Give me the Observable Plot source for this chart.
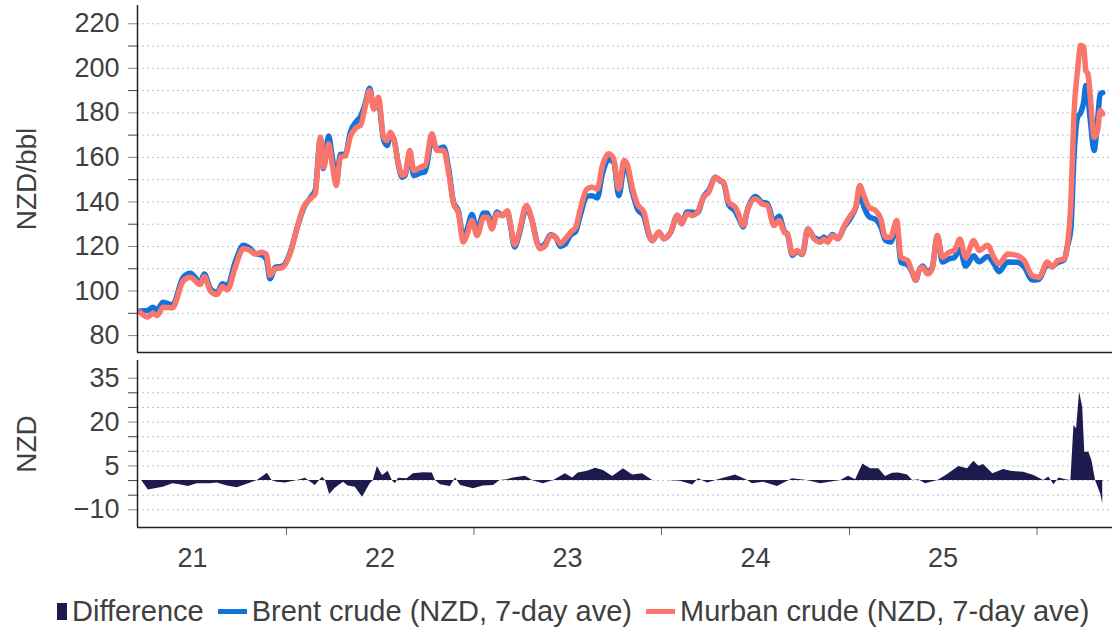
<!DOCTYPE html>
<html>
<head>
<meta charset="utf-8">
<script src="https://cdn.jsdelivr.net/npm/d3@7"></script>
<script src="https://cdn.jsdelivr.net/npm/@observablehq/plot@0.6"></script>
<style>
  html, body { margin: 0; padding: 0; background: #ffffff; }
  #chart { width: 1112px; height: 628px; position: relative; overflow: hidden;
           font-family: "Liberation Sans", Arial, sans-serif; color: #404040; }
  #chart svg { display: block; }
  #legend { position: absolute; left: 57px; top: 592px; height: 38px;
            display: flex; align-items: center; justify-content: flex-start;
            font-size: 29px; color: #404040; white-space: nowrap; }
  .item { display: flex; align-items: center; }
  .item + .item { margin-left: 14px; }
  .sq { width: 10px; height: 17px; margin-right: 5px; }
  .ln { width: 29px; height: 5px; margin-right: 5px; }
</style>
</head>
<body>
<div id="chart"></div>
<script>
// ---------------- data ----------------
const priceDates = [
  "2021-03-22","2021-04-06","2021-04-16","2021-04-24","2021-05-06","2021-05-24","2021-06-14","2021-06-28",
  "2021-07-17","2021-07-25","2021-08-06","2021-08-19","2021-08-29","2021-09-08","2021-09-23","2021-10-09",
  "2021-10-22","2021-11-01","2021-11-14","2021-11-23","2021-11-30","2021-12-10","2021-12-24","2022-01-09",
  "2022-01-22","2022-02-03","2022-02-20","2022-02-26","2022-03-08","2022-03-14","2022-03-24","2022-03-31",
  "2022-04-08","2022-04-16","2022-04-26","2022-05-05","2022-05-18","2022-05-25","2022-06-03","2022-06-12",
  "2022-06-20","2022-06-29","2022-07-09","2022-07-16","2022-07-22","2022-07-29","2022-08-07","2022-08-14",
  "2022-08-20","2022-08-29","2022-09-06","2022-09-19","2022-09-28","2022-10-11","2022-10-21","2022-11-03",
  "2022-11-13","2022-11-22","2022-12-02","2022-12-11","2022-12-19","2022-12-28","2023-01-07","2023-01-20",
  "2023-01-27","2023-02-05","2023-02-15","2023-02-25","2023-03-07","2023-03-13","2023-03-21","2023-03-29",
  "2023-04-13","2023-04-24","2023-05-04","2023-05-10","2023-05-20","2023-05-30","2023-06-09","2023-06-18",
  "2023-06-28","2023-07-08","2023-07-18","2023-07-27","2023-08-09","2023-08-19","2023-08-29","2023-09-08",
  "2023-09-20","2023-09-30","2023-10-10","2023-10-20","2023-10-26","2023-11-05","2023-11-15","2023-11-28",
  "2023-12-07","2023-12-14","2023-12-27","2024-01-06","2024-01-19","2024-02-01","2024-02-09","2024-02-20",
  "2024-03-01","2024-03-11","2024-03-23","2024-04-02","2024-04-15","2024-04-25","2024-05-01","2024-05-11",
  "2024-05-24","2024-05-31","2024-06-08","2024-06-16","2024-07-02","2024-07-15","2024-07-25","2024-08-07",
  "2024-08-17","2024-08-27","2024-09-02","2024-09-12","2024-09-21","2024-10-01","2024-10-12","2024-10-24",
  "2024-11-06","2024-11-12","2024-11-19","2024-11-29","2024-12-09","2024-12-22","2025-01-03","2025-01-13",
  "2025-01-21","2025-01-29","2025-02-08","2025-02-21","2025-03-03","2025-03-12","2025-03-22","2025-04-03",
  "2025-04-11","2025-04-24","2025-05-03","2025-05-10","2025-05-16","2025-05-23","2025-06-02","2025-06-11",
  "2025-06-21","2025-07-01","2025-07-14","2025-07-24","2025-08-04","2025-08-15","2025-08-31","2025-09-10",
  "2025-09-27","2025-10-09","2025-10-19","2025-11-05","2025-11-24","2025-12-07","2025-12-23","2026-01-05",
  "2026-01-21","2026-01-31","2026-02-10","2026-02-23","2026-03-01","2026-03-08","2026-03-14","2026-03-21",
  "2026-03-27","2026-04-02","2026-04-06","2026-04-10","2026-04-16","2026-04-22","2026-04-29","2026-05-04",
  "2026-05-09"
];
const murban = [
  90.5,88.3,90,89,92.7,92.5,104.5,106.2,
  102.9,106.5,100,98.4,102,100.5,110.5,119,
  118.2,116.6,117.4,116.4,107,110,110.5,117.5,
  128.6,137.6,142.1,143.6,169.1,155.6,166.1,157.1,
  147.4,160.1,160.8,169.1,173.6,174.3,182.5,190,
  181.8,187,169.1,167.6,171.3,168.3,157.1,151.9,
  152.6,163.1,154.1,155.6,156.3,170.6,163.1,163.1,
  152.6,139.5,134.7,122,125.7,131.7,124.9,133.1,
  133.1,127.9,134.7,133.9,136.1,130.1,120.8,125.7,
  138.4,131.7,121.3,119,120.5,124.9,124.2,121.3,
  123.5,126.4,128.6,136.8,145.8,146.6,145.8,156.3,
  161.6,159.3,145.8,158.6,157.1,146.6,139.1,135.4,
  126.4,122.7,126.4,123.5,126.4,133.9,130.1,134.7,
  133.9,135.4,142.1,144.4,151.1,149.6,148.9,139.9,
  137.6,133.9,129.4,136.1,141.4,139.1,138.4,129.4,
  131.7,126.4,125.7,116.6,118.2,116.6,127.9,123.4,
  121.9,123.4,121.9,124.9,123.4,129.4,133.9,137.6,
  147.4,142.9,137.6,136.1,132.4,124.2,124.2,131.7,
  115.2,113.7,108.5,104.8,109.2,110.7,107.7,110,
  124.9,115.2,117.4,118.2,123.4,115.2,122.7,118.2,
  120.5,115.2,112.2,116.6,115.9,113.7,106.9,106.2,
  113,110.7,113.7,114.4,120,140,179.6,199,
  210.3,209.5,199,197.5,184.1,169.1,172.1,181.1,
  179.6
];
const brent = [
  91,91.3,92.7,91.5,95,93.7,106.2,108,
  104,107.6,101.1,99.2,103.3,102.4,112.9,120.5,
  119.1,116.9,116.2,114.1,105.5,110.6,111.2,117.9,
  128.6,137,143,145.3,168.4,155,169.6,160.4,
  149.8,161.3,161.5,171.1,176.4,178.3,184,191.1,
  181.8,184.5,167.9,165.3,169.6,168.3,156.4,151.1,
  151.9,161.6,151.8,153,153.6,168,163.6,164.7,
  154.5,140,135.6,124,128,134.4,127.4,135,
  134.9,129.6,135.5,133.9,135.8,129.5,119.8,124.5,
  137.1,131.7,121.8,119.8,121.4,125.3,124.2,120,
  121.2,125.1,126.8,134.1,142.6,142.8,141.8,152.6,
  159,157.7,142.8,154.6,154.1,144.7,137,133.4,
  125.4,122.6,126.4,123.5,126.4,134,130.4,135.5,
  135.4,135.2,142.4,145.2,151.1,149.4,148.4,138.7,
  135.7,132.4,128.8,136.1,142.4,139.8,139.4,131.1,
  133.6,126.9,125.7,116,117.8,116.4,127.9,124,
  123,124.3,122.7,125.4,123.6,128.8,132.7,137.3,
  143.4,137.9,133.4,132.1,128.8,122.8,122,129.1,
  112.9,111.8,108.4,104.8,108.9,111.2,108.7,110.5,
  124.9,113,114.5,115,118.8,111.2,115.8,113.1,
  115.5,112.3,108.7,113,112.9,110.8,104.9,105.3,
  111.8,111.2,112.8,114,119.8,128,160,178,
  180,185,192.3,187,174,163.1,176.6,188.5,
  189
];
const diffDates = [
  "2021-03-25","2021-04-01","2021-04-07","2021-05-06","2021-05-25","2021-06-08","2021-06-24","2021-07-11",
  "2021-08-06","2021-08-19","2021-09-08","2021-09-27","2021-10-22","2021-11-05","2021-11-25","2021-12-04",
  "2021-12-14","2021-12-30","2022-01-22","2022-02-07","2022-02-26","2022-03-12","2022-03-18","2022-03-26",
  "2022-04-06","2022-04-22","2022-05-01","2022-05-15","2022-05-29","2022-06-13","2022-06-19","2022-06-27",
  "2022-07-07","2022-07-18","2022-07-26","2022-08-01","2022-08-07","2022-08-24","2022-09-05","2022-09-24",
  "2022-10-12","2022-10-18","2022-10-28","2022-11-16","2022-11-26","2022-12-06","2022-12-31","2023-01-19",
  "2023-02-08","2023-02-21","2023-03-07","2023-03-19","2023-04-11","2023-04-25","2023-05-16","2023-06-05",
  "2023-06-28","2023-07-12","2023-07-23","2023-08-10","2023-08-26","2023-09-10","2023-09-28","2023-10-19",
  "2023-11-06","2023-11-25","2023-12-15","2024-01-13","2024-02-07","2024-03-02","2024-03-13","2024-03-31",
  "2024-04-19","2024-05-24","2024-06-17","2024-06-26","2024-07-18","2024-08-14","2024-09-12","2024-10-11",
  "2024-11-06","2024-12-15","2024-12-30","2025-01-13","2025-01-27","2025-02-11","2025-02-27","2025-03-12",
  "2025-03-26","2025-04-07","2025-04-24","2025-05-04","2025-05-16","2025-05-29","2025-06-22","2025-07-11",
  "2025-08-02","2025-08-19","2025-08-31","2025-09-10","2025-09-19","2025-10-07","2025-10-28","2025-11-11",
  "2025-12-06","2025-12-26","2026-01-14","2026-01-24","2026-02-03","2026-02-13","2026-02-26","2026-03-08",
  "2026-03-14","2026-03-19","2026-03-25","2026-03-31","2026-04-04","2026-04-12","2026-04-18","2026-04-25",
  "2026-05-05","2026-05-09"
];
const difference = [
  0,-1.7,-3.2,-2.3,-1.1,-1.4,-2,-1.1,
  -1.1,-0.8,-1.9,-2.5,-0.9,0,2.5,0,
  -0.6,-0.8,0,0.8,-1.7,1.1,0,-4.8,
  -2.6,-0.6,-1.9,-2.3,-5.7,-1.1,0,4.8,
  1.7,3.2,0,-1.1,0.8,0.6,2.3,2.7,
  2.6,0,-1.4,-2,0.9,-1.7,-2.8,-1.9,
  -1.7,0,0.3,0.9,1.5,0,-1.1,0,
  2.3,0.9,2.6,3.2,4.2,3.4,1.4,4.0,
  1.9,2.3,0,0,-0.2,-1.5,0.6,-0.8,
  0.2,1.9,0,-1.1,-0.6,-2,0.6,0,
  -1.1,0,1.5,0.3,5.7,4.0,4.0,1.4,
  2.5,2.6,1.9,0,0.3,-1.1,0,2.1,
  4.8,4.0,6.6,4.9,5.5,2.3,3.8,3.2,
  2.8,1.7,0,1.2,-1.4,0.9,0.3,0,
  18.8,17.7,30.2,25.1,9.7,9.7,6.8,0,
  -4.6,-8
];
const yearStarts = ["2022-01-01","2023-01-01","2024-01-01","2025-01-01","2026-01-01"];
const yearLabelDates = ["2021-07-02","2022-07-02","2023-07-02","2024-07-02","2025-07-02"];
const yearLabels = ["21","22","23","24","25"];
const topMajor = [80,100,120,140,160,180,200,220];
const topMinor = [90,110,130,150,170,190,210];
const botMajor = [-10,5,20,35];
const botMinor = [-5,0,10,15,25,30];
const seriesNames = ["Difference","Brent crude (NZD, 7-day ave)","Murban crude (NZD, 7-day ave)"];
const seriesColors = ["#1f1a4e","#1273dc","#fa766c"];

// ---------------- build tables ----------------
const P = d3.utcParse("%Y-%m-%d");
const prices = priceDates.map((d, i) => ({date: P(d), brent: brent[i], murban: murban[i]}));
const diffs = diffDates.map((d, i) => ({date: P(d), v: difference[i]}));
const xDomain = [P("2021-03-17"), P("2026-05-28")];
const topDomain = [72.4, 228.2];
const botDomain = [-16.05, 41.05];
const font = "'Liberation Sans', Arial, sans-serif";
const grid = {stroke: "#b3c6d1", strokeOpacity: 1, strokeDasharray: "2,3", strokeWidth: 1};
const tickFont = 27;

const topPlot = Plot.plot({
  width: 1112, height: 355,
  marginLeft: 137, marginRight: 0, marginTop: 5, marginBottom: 3,
  style: {fontFamily: font, fontSize: tickFont + "px", color: "#404040", background: "transparent"},
  x: {type: "utc", domain: xDomain, axis: null},
  y: {domain: topDomain},
  marks: [
    Plot.gridY(d3.merge([topMajor, topMinor]), grid),
    Plot.axisY(topMinor, {tickSize: 9, tickFormat: () => "", stroke: "#444", label: null}),
    Plot.axisY(topMajor, {tickSize: 9, tickPadding: 9, stroke: "#888", fill: "#404040", fontSize: tickFont, label: null}),
    Plot.lineY(prices, {x: "date", y: "brent", stroke: seriesColors[1], strokeWidth: 5.5, curve: "monotone-x"}),
    Plot.lineY(prices, {x: "date", y: "murban", stroke: seriesColors[2], strokeWidth: 5.5, curve: "monotone-x"}),
    Plot.ruleX([xDomain[0]], {stroke: "#222", strokeWidth: 1.5}),
    Plot.ruleY([topDomain[0]], {stroke: "#222", strokeWidth: 1.5}),
    Plot.text(["NZD/bbl"], {frameAnchor: "left", textAnchor: "middle", lineAnchor: "middle",
      rotate: -90, dx: -110, fontSize: 28, fill: "#404040"})
  ]
});

const bottomPlot = Plot.plot({
  width: 1112, height: 225,
  marginLeft: 137, marginRight: 0, marginTop: 5, marginBottom: 53,
  style: {fontFamily: font, fontSize: tickFont + "px", color: "#404040", background: "transparent"},
  x: {type: "utc", domain: xDomain},
  y: {domain: botDomain},
  marks: [
    Plot.gridY(d3.merge([botMajor, botMinor]), grid),
    Plot.axisY(botMinor, {tickSize: 9, tickFormat: () => "", stroke: "#444", label: null}),
    Plot.axisY(botMajor, {tickSize: 9, tickPadding: 9, stroke: "#888", fill: "#404040", fontSize: tickFont, label: null}),
    Plot.areaY(diffs, {x: "date", y: "v", fill: seriesColors[0]}),
    Plot.axisX(yearStarts.map(P), {tickSize: 8, tickFormat: () => "", stroke: "#666", label: null}),
    Plot.axisX(yearLabelDates.map(P), {tickSize: 0, tickPadding: 20, fontSize: tickFont, fill: "#404040",
      tickFormat: (d, i) => yearLabels[i], label: null}),
    Plot.ruleX([xDomain[0]], {stroke: "#222", strokeWidth: 1.5}),
    Plot.ruleY([botDomain[0]], {stroke: "#222", strokeWidth: 1.5}),
    Plot.text(["NZD"], {frameAnchor: "left", textAnchor: "middle", lineAnchor: "middle",
      rotate: -90, dx: -110, fontSize: 28, fill: "#404040"})
  ]
});

const chart = document.getElementById("chart");
chart.appendChild(topPlot);
chart.appendChild(bottomPlot);

const legend = document.createElement("div");
legend.id = "legend";
seriesNames.forEach((name, i) => {
  const item = document.createElement("div");
  item.className = "item";
  const sw = document.createElement("div");
  sw.className = i === 0 ? "sq" : "ln";
  sw.style.background = seriesColors[i];
  const t = document.createElement("span");
  t.textContent = name;
  item.appendChild(sw);
  item.appendChild(t);
  legend.appendChild(item);
});
chart.appendChild(legend);
</script>
</body>
</html>
